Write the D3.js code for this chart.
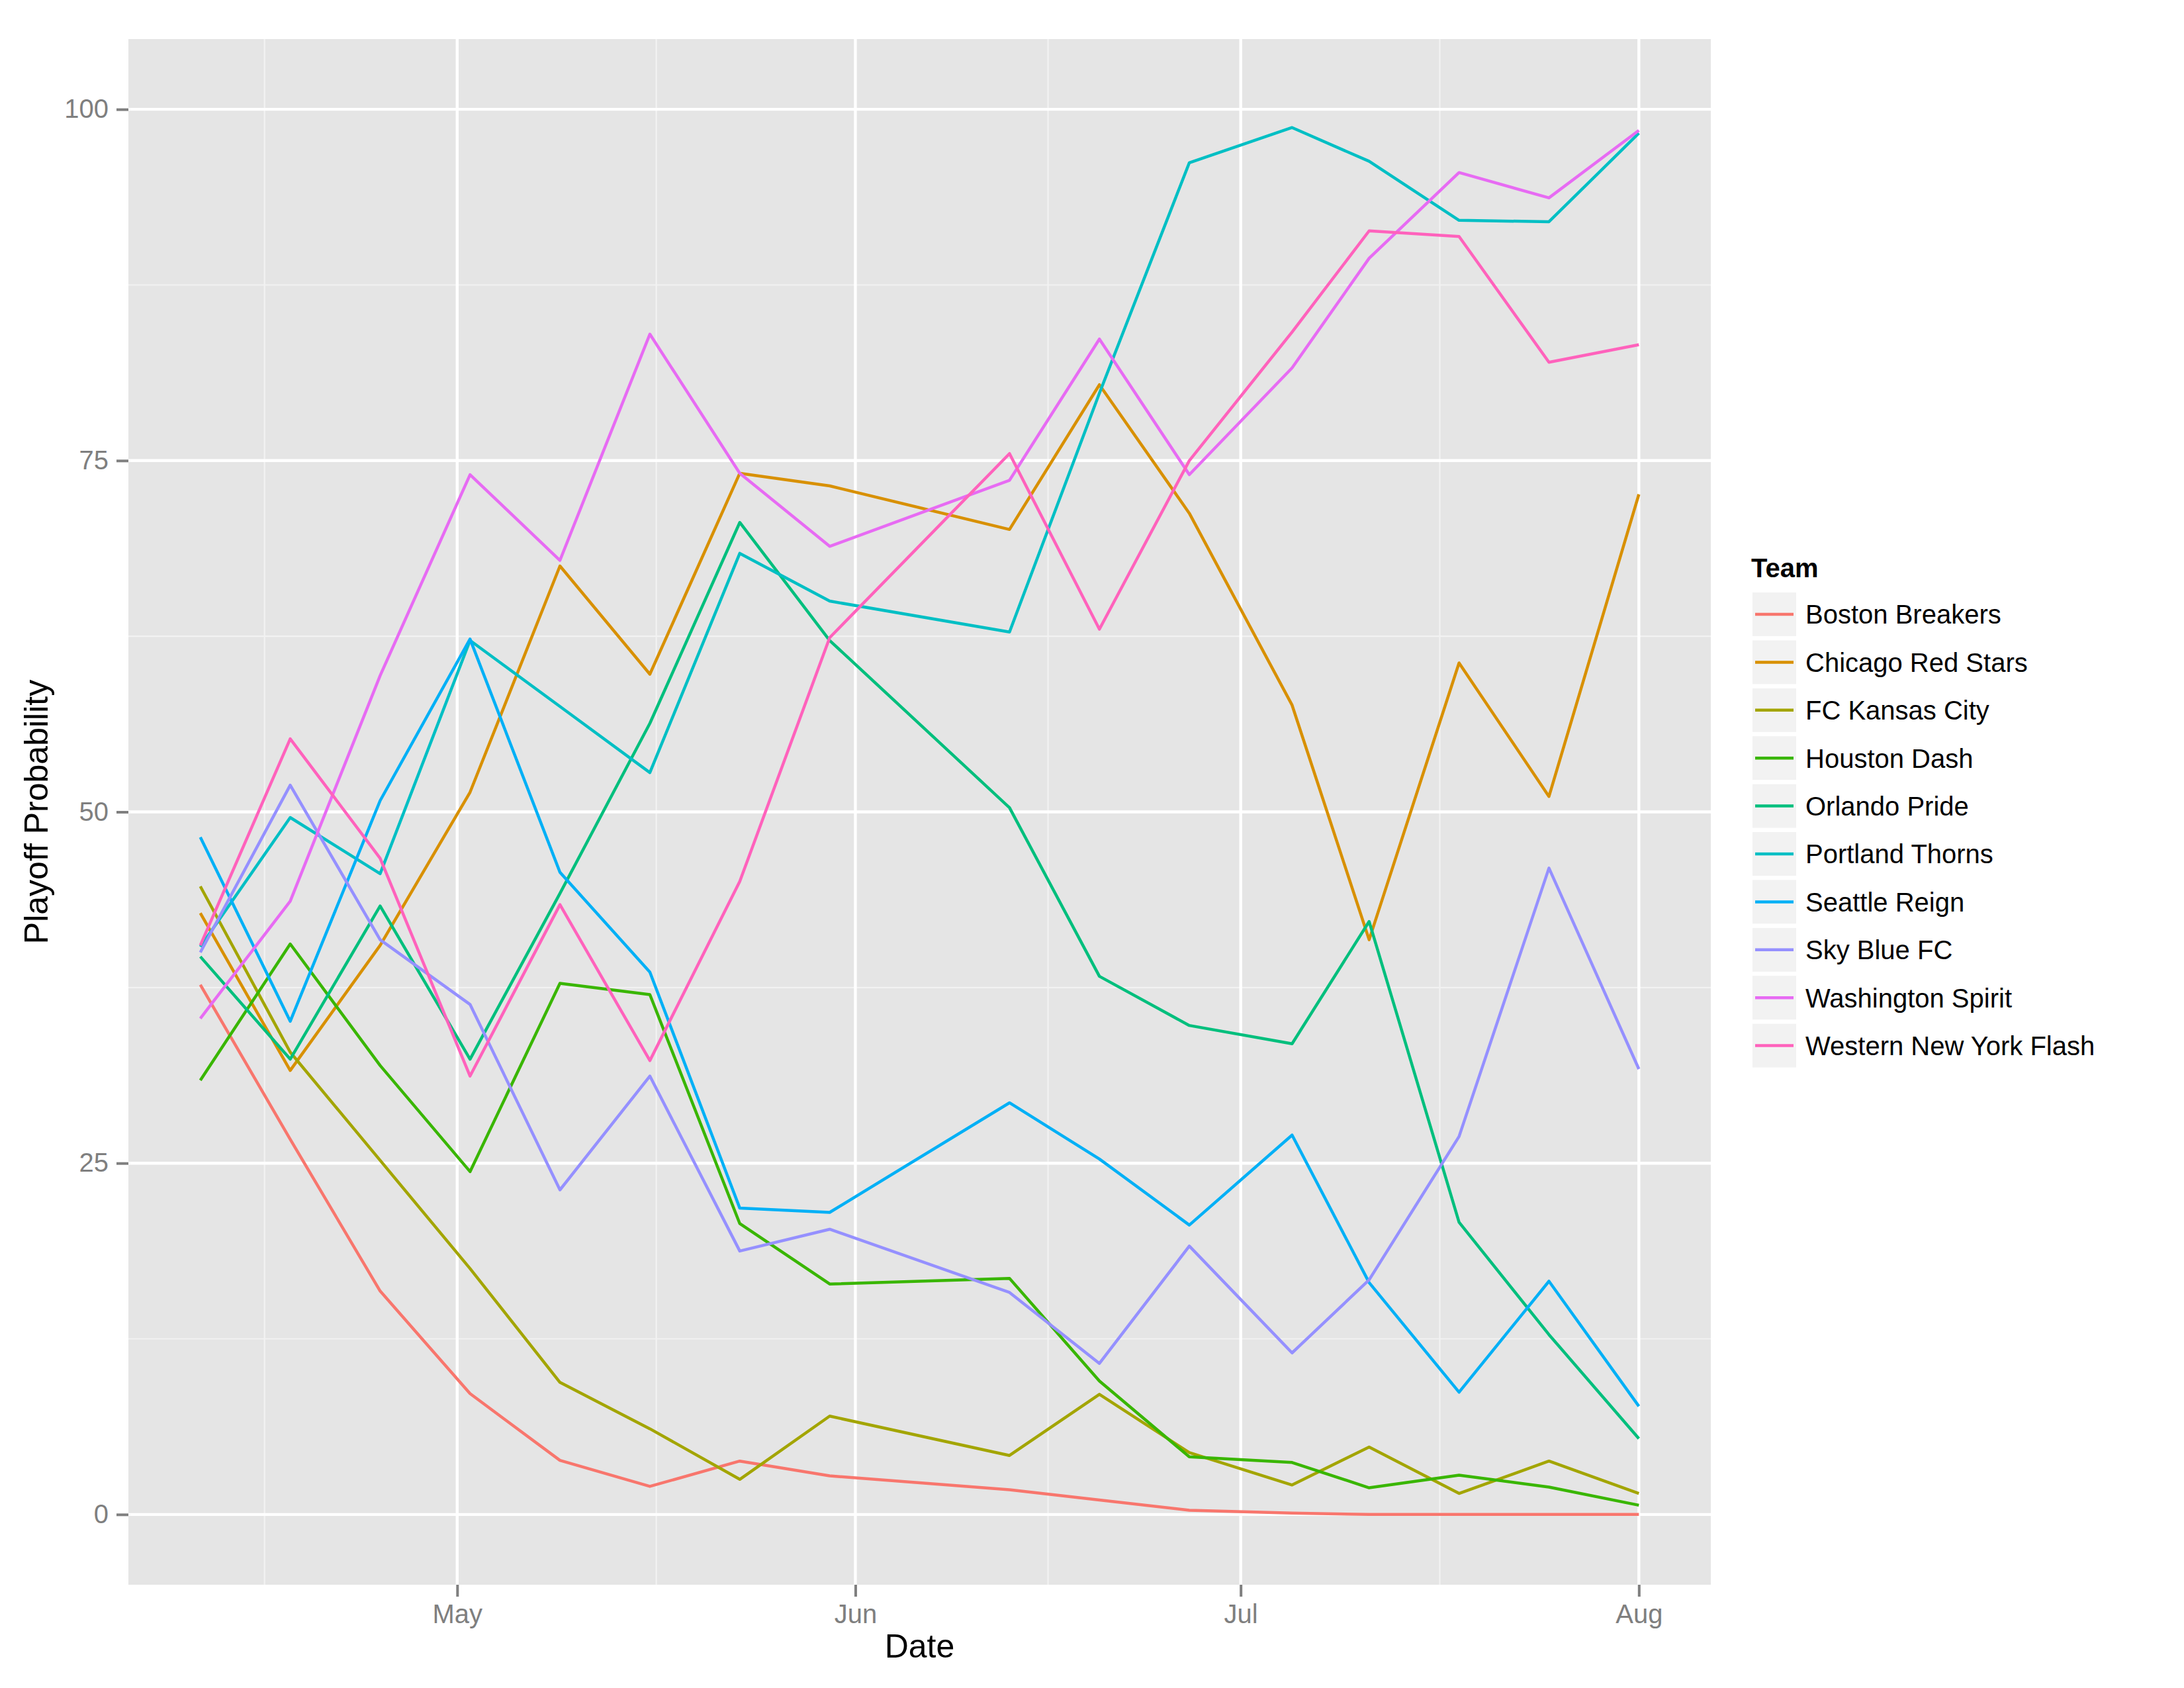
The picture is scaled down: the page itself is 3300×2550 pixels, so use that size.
<!DOCTYPE html>
<html>
<head>
<meta charset="utf-8">
<script src="https://cdn.jsdelivr.net/npm/d3@7"></script>
<style>
  body { margin: 0; background: #fff; }
  text { font-family: "Liberation Sans", Arial, Helvetica, sans-serif; }
</style>
</head>
<body>
<div id="chart"></div>
<script>
// weekly dates (2016 season)
var dates = ["2016-04-11", "2016-04-18", "2016-04-25", "2016-05-02", "2016-05-09", "2016-05-16",
  "2016-05-23", "2016-05-30", "2016-06-13", "2016-06-20", "2016-06-27", "2016-07-05",
  "2016-07-11", "2016-07-18", "2016-07-25", "2016-08-01"];

var teams = ["Boston Breakers", "Chicago Red Stars", "FC Kansas City", "Houston Dash", "Orlando Pride",
  "Portland Thorns", "Seattle Reign", "Sky Blue FC", "Washington Spirit", "Western New York Flash"];

var colors = ["#F8766D", "#D89000", "#A3A500", "#39B600", "#00BF7D",
  "#00BFC4", "#00B0F6", "#9590FF", "#E76BF3", "#FF62BC"];

var boston     = [37.7, 26.7, 15.9, 8.6, 3.85, 2.0, 3.8, 2.75, 1.76, 1.03, 0.3, 0.1, 0, 0, 0, 0];
var chicago    = [42.8, 31.6, 40.5, 51.4, 67.5, 59.8, 74.1, 73.2, 70.1, 80.4, 71.25, 57.6, 40.9, 60.6, 51.1, 72.6];
var kansasCity = [44.7, 32.9, 25.2, 17.5, 9.4, 6.1, 2.5, 7.0, 4.2, 8.55, 4.4, 2.1, 4.8, 1.5, 3.8, 1.5];
var houston    = [30.9, 40.6, 31.95, 24.4, 37.8, 37.0, 20.7, 16.4, 16.8, 9.5, 4.1, 3.7, 1.9, 2.8, 1.95, 0.66];
var orlando    = [39.7, 32.4, 43.3, 32.4, 44.2, 56.3, 70.6, 62.2, 50.3, 38.3, 34.8, 33.5, 42.2, 20.8, 12.8, 5.4];
var portland   = [40.4, 49.6, 45.6, 62.2, 57.5, 52.8, 68.4, 65.0, 62.8, 79.8, 96.2, 98.7, 96.3, 92.1, 92.0, 98.3];
var seattle    = [48.2, 35.1, 50.8, 62.3, 45.7, 38.6, 21.8, 21.5, 29.3, 25.3, 20.6, 27.0, 16.5, 8.7, 16.6, 7.7];
var skyBlue    = [40.0, 51.9, 40.9, 36.3, 23.1, 31.2, 18.75, 20.3, 15.8, 10.75, 19.1, 11.5, 16.7, 26.9, 46.0, 31.7];
var washington = [35.3, 43.65, 59.7, 74.0, 67.9, 84.0, 74.1, 68.9, 73.6, 83.65, 74.0, 81.6, 89.4, 95.5, 93.7, 98.5];
var wnyFlash   = [40.5, 55.2, 46.7, 31.2, 43.4, 32.3, 45.05, 62.4, 75.5, 63.0, 75.0, 84.15, 91.35, 90.95, 82.0, 83.25];

var seriesValues = [boston, chicago, kansasCity, houston, orlando, portland, seattle, skyBlue, washington, wnyFlash];

var yTicks = [0, 25, 50, 75, 100];
var xTickLabels = ["May", "Jun", "Jul", "Aug"];

var W = 3300, H = 2550,
    panel = {left: 194, right: 2585, top: 59, bottom: 2394};

var parse = d3.utcParse("%Y-%m-%d");
var dateObjs = dates.map(parse);

var svg = d3.select("#chart").append("svg")
  .attr("width", W).attr("height", H);
svg.append("rect").attr("width", W).attr("height", H).attr("fill", "#fff");

// x scale with ggplot style 5% expansion
var ext = d3.extent(dateObjs);
var span = ext[1] - ext[0];
var x = d3.scaleUtc()
  .domain([new Date(+ext[0] - span * 0.05), new Date(+ext[1] + span * 0.05)])
  .range([panel.left, panel.right]);

var y = d3.scaleLinear()
  .domain([-5, 105])
  .range([panel.bottom, panel.top]);

// panel background
svg.append("rect")
  .attr("x", panel.left).attr("y", panel.top)
  .attr("width", panel.right - panel.left).attr("height", panel.bottom - panel.top)
  .attr("fill", "#E5E5E5");

// month breaks
var monthBreaks = d3.utcMonth.range(new Date(Date.UTC(2016, 3, 1)), new Date(Date.UTC(2016, 8, 2)));
var majorX = monthBreaks.filter(d => d >= x.domain()[0] && d <= x.domain()[1]);
var minorX = [];
for (var i = 0; i < monthBreaks.length - 1; i++) {
  var mid = new Date((+monthBreaks[i] + +monthBreaks[i + 1]) / 2);
  if (mid >= x.domain()[0] && mid <= x.domain()[1]) minorX.push(mid);
}
var minorY = [12.5, 37.5, 62.5, 87.5];

var grid = svg.append("g");
grid.selectAll(".minorY").data(minorY).enter().append("line")
  .attr("x1", panel.left).attr("x2", panel.right)
  .attr("y1", d => y(d)).attr("y2", d => y(d))
  .attr("stroke", "#F2F2F2").attr("stroke-width", 2.2);
grid.selectAll(".minorX").data(minorX).enter().append("line")
  .attr("y1", panel.top).attr("y2", panel.bottom)
  .attr("x1", d => x(d)).attr("x2", d => x(d))
  .attr("stroke", "#F2F2F2").attr("stroke-width", 2.2);
grid.selectAll(".majorY").data(yTicks).enter().append("line")
  .attr("x1", panel.left).attr("x2", panel.right)
  .attr("y1", d => y(d)).attr("y2", d => y(d))
  .attr("stroke", "#FFFFFF").attr("stroke-width", 4.4);
grid.selectAll(".majorX").data(majorX).enter().append("line")
  .attr("y1", panel.top).attr("y2", panel.bottom)
  .attr("x1", d => x(d)).attr("x2", d => x(d))
  .attr("stroke", "#FFFFFF").attr("stroke-width", 4.4);

// lines
var line = d3.line()
  .x((d, i) => x(dateObjs[i]))
  .y(d => y(d));

svg.append("g").selectAll("path").data(seriesValues).enter().append("path")
  .attr("d", line)
  .attr("fill", "none")
  .attr("stroke", (d, i) => colors[i])
  .attr("stroke-width", 4.5)
  .attr("stroke-linejoin", "round");

// axes
var xAxis = d3.axisBottom(x)
  .tickValues(majorX)
  .tickFormat((d, i) => xTickLabels[i])
  .tickSize(18).tickPadding(12);
var gx = svg.append("g")
  .attr("transform", "translate(0," + panel.bottom + ")")
  .call(xAxis);

var yAxis = d3.axisLeft(y)
  .tickValues(yTicks)
  .tickSize(18).tickPadding(12);
var gy = svg.append("g")
  .attr("transform", "translate(" + panel.left + ",0)")
  .call(yAxis);

[gx, gy].forEach(function (g) {
  g.select(".domain").remove();
  g.selectAll(".tick line").attr("stroke", "#7F7F7F").attr("stroke-width", 4);
  g.selectAll(".tick text")
    .attr("fill", "#7F7F7F")
    .style("font-size", "40px")
    .style("font-family", "Liberation Sans, Arial, sans-serif");
});

// axis titles
svg.append("text")
  .attr("x", (panel.left + panel.right) / 2).attr("y", 2504)
  .attr("text-anchor", "middle")
  .style("font-size", "50px")
  .text("Date");

svg.append("text")
  .attr("transform", "translate(72," + ((panel.top + panel.bottom) / 2) + ") rotate(-90)")
  .attr("text-anchor", "middle")
  .style("font-size", "50px")
  .text("Playoff Probability");

// legend
var legend = svg.append("g");
legend.append("text")
  .attr("x", 2646).attr("y", 872)
  .style("font-size", "40px").style("font-weight", "bold")
  .text("Team");

var keys = legend.selectAll(".key").data(teams).enter().append("g")
  .attr("transform", (d, i) => "translate(2648," + (895 + i * 72.4) + ")");
keys.append("rect")
  .attr("width", 66).attr("height", 66)
  .attr("fill", "#F2F2F2");
keys.append("line")
  .attr("x1", 4).attr("x2", 62)
  .attr("y1", 33).attr("y2", 33)
  .attr("stroke", (d, i) => colors[i])
  .attr("stroke-width", 4.5);
keys.append("text")
  .attr("x", 80).attr("y", 33)
  .attr("dy", "0.36em")
  .style("font-size", "40px")
  .text(d => d);
</script>
</body>
</html>
